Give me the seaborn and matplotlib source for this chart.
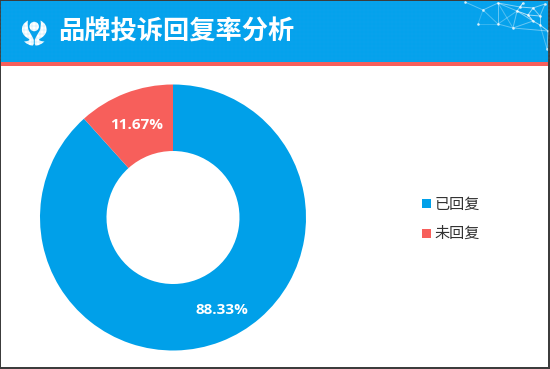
import matplotlib
matplotlib.use("Agg")
import matplotlib.pyplot as plt
from matplotlib.patches import Rectangle, Ellipse, PathPatch
from matplotlib.path import Path
import seaborn as sns

title = "品牌投诉回复率分析"
categories = ["已回复", "未回复"]
values = [88.33, 11.67]
value_labels = ["88.33%", "11.67%"]

BLUE = "#00A0E9"
RED = "#F75F5B"
BANNER = "#04A2EC"

sns.set_theme(style="white")
plt.rcParams["font.family"] = ["Noto Sans CJK SC", "DejaVu Sans"]
colors = sns.color_palette([BLUE, RED])

W, H = 550, 369
fig = plt.figure(figsize=(W / 100, H / 100), dpi=100, facecolor="white")

# page layer in pixel coordinates
bg = fig.add_axes([0, 0, 1, 1])
bg.set_xlim(0, W)
bg.set_ylim(H, 0)
bg.axis("off")
bg.add_patch(Rectangle((0, 0), W, 62, color=BANNER, lw=0))
bg.add_patch(Rectangle((0, 62), W, 4, color=RED, lw=0))

# subtle banner texture
for x in range(0, W, 4):
    bg.plot([x, x], [1, 62], color="#2AB0F0", lw=0.3, alpha=0.35)
for y in range(2, 62, 4):
    bg.plot([0, W], [y, y], color="#2AB0F0", lw=0.3, alpha=0.35)

# network decoration at top right
nodes = [(465, 2), (483, 10), (498, 3), (520, 7), (517, 11), (533, 8), (528, 15),
         (533, 21), (498, 24), (513, 28), (478, 24), (548, 31), (547, 49),
         (540, 25), (545, 4), (523, 3), (540, 16)]
edges = [(0, 1, .35), (1, 2, .4), (2, 3, .5), (2, 4, .4), (3, 5, .6), (4, 6, .7), (6, 7, .8),
         (1, 8, .3), (2, 8, .4), (4, 9, .4), (8, 9, .35), (10, 1, .2), (10, 8, .2),
         (7, 13, .6), (13, 11, .6), (9, 11, .4), (11, 12, .4), (13, 12, .3), (5, 6, .6),
         (5, 14, .5), (3, 15, .5), (4, 7, .5), (6, 16, .6), (16, 13, .5), (9, 7, .4),
         (4, 8, .3), (5, 16, .5), (15, 4, .5), (14, 16, .4), (2, 9, .3)]
for a, b, alpha in edges:
    bg.plot([nodes[a][0], nodes[b][0]], [nodes[a][1], nodes[b][1]],
            color="white", lw=0.7, alpha=alpha)
bg.scatter([n[0] for n in nodes], [n[1] for n in nodes], s=3.5, color="white",
           alpha=0.8, lw=0)

# logo, two mirrored arms around a round head
arm = [(28, 20.5), (21, 24), (22, 31), (23, 36), (29, 39), (31, 41), (24, 41.5),
       (29, 46), (33, 45.5), (35, 42), (33, 38), (31, 34), (29, 31), (27, 27), (28, 20.5)]
codes = [Path.MOVETO] + [Path.CURVE3] * (len(arm) - 1)
bg.add_patch(PathPatch(Path(arm, codes), fc="white", ec="none"))
bg.add_patch(PathPatch(Path([(68.5 - x, y) for x, y in arm], codes), fc="white", ec="none"))
bg.add_patch(Ellipse((34.2, 26.5), 9.5, 9.5, color="white", lw=0))

bg.text(58, 32.5, title, color="white", fontsize=18.9, fontweight="bold",
        va="center", ha="left")

# border
BORDER = "#3C3C3C"
bg.add_patch(Rectangle((0, 0), W, 1.2, color=BORDER, lw=0))
bg.add_patch(Rectangle((0, H - 2), W, 2, color=BORDER, lw=0))
bg.add_patch(Rectangle((0, 0), 1.2, H, color=BORDER, lw=0))
bg.add_patch(Rectangle((W - 2, 0), 2, H, color=BORDER, lw=0))

# donut
cx, cy, r = 173, 217.5, 133
ax = fig.add_axes([(cx - r) / W, 1 - (cy + r) / H, 2 * r / W, 2 * r / H])
wedges, _ = ax.pie(values, colors=colors, startangle=90, counterclock=False,
                   radius=1.0, wedgeprops=dict(width=0.5, linewidth=0))
ax.set_xlim(-1, 1)
ax.set_ylim(-1, 1)
ax.set_aspect("equal")
ax.patch.set_alpha(0)
ax.axis("off")

ax.text((221.5 - cx) / r, (cy - 310) / r, value_labels[0], color="white", fontsize=11,
        fontweight="bold", ha="center", va="center", family="Open Sans")
ax.text((137 - cx) / r, (cy - 125) / r, value_labels[1], color="white", fontsize=11,
        fontweight="bold", ha="center", va="center", family="Open Sans")

# legend
for y, c, lab in zip([203.5, 233], colors, categories):
    bg.add_patch(Rectangle((422, y - 4.5), 9, 9, color=c, lw=0))
    bg.text(434.2, y + 0.5, lab, color="#333333", fontsize=10.9, va="center", ha="left")

fig.savefig("out.png", dpi=100)
